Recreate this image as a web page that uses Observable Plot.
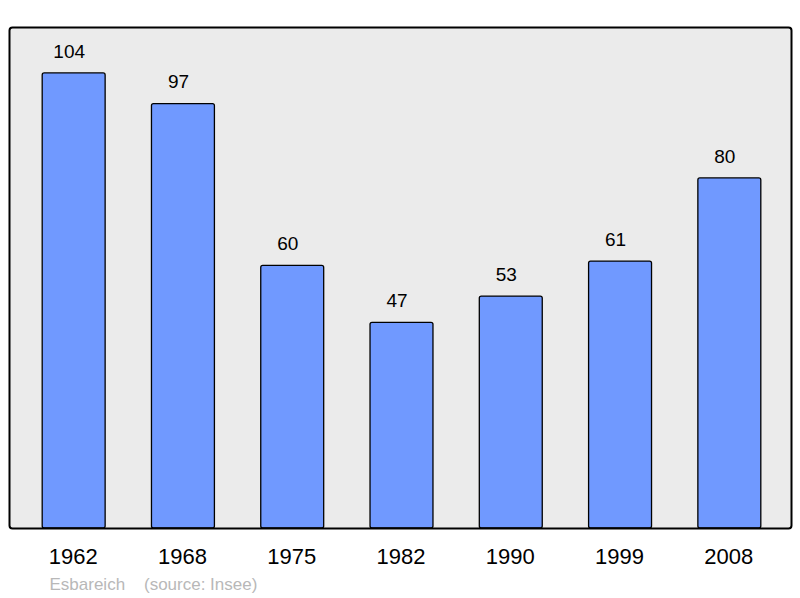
<!DOCTYPE html>
<html>
<head>
<meta charset="utf-8">
<script src="https://cdn.jsdelivr.net/npm/d3@7"></script>
<script src="https://cdn.jsdelivr.net/npm/@observablehq/plot@0.6"></script>
<style>
html,body{margin:0;padding:0;background:#fff;}
</style>
</head>
<body>
<div id="chart"></div>
<script>
const years = ["1962","1968","1975","1982","1990","1999","2008"];
const population = [104, 97, 60, 47, 53, 61, 80];
const captionText = "Esbareich    (source: Insee)";

const data = years.map((y, i) => ({year: y, value: population[i]}));

const chart = Plot.plot({
  width: 800,
  height: 598,
  marginLeft: 9,
  marginRight: 9,
  marginTop: 27,
  marginBottom: 70,
  style: {fontFamily: "'Liberation Sans', Arial, sans-serif", background: "#fff"},
  x: {domain: years, range: [10.5, 792.5], paddingInner: 0.424, paddingOuter: 0.29, round: false, label: null},
  y: {domain: [0, 114.5], axis: null},
  marks: [
    Plot.frame({fill: "#ebebeb", stroke: null, rx: 3}),
    Plot.barY(data, {x: "year", y: "value", fill: "#7099ff", stroke: "#000", strokeWidth: 1.3, rx: 2}),
    Plot.text(data, {x: "year", y: "value", text: d => String(d.value), dx: -5, dy: -22, fontSize: 19, fill: "#000"}),
    Plot.frame({stroke: "#000", strokeWidth: 2, rx: 3}),
    Plot.axisX({tickSize: 0, tickPadding: 20, fontSize: 22, label: null, color: "#000", dx: -1}),
    Plot.text([captionText], {frameAnchor: "bottom-left", text: d => d, textAnchor: "start", dx: 40, dy: 61, fontSize: 17, fill: "#b8b8b8"})
  ]
});
document.getElementById("chart").appendChild(chart);
</script>
</body>
</html>
